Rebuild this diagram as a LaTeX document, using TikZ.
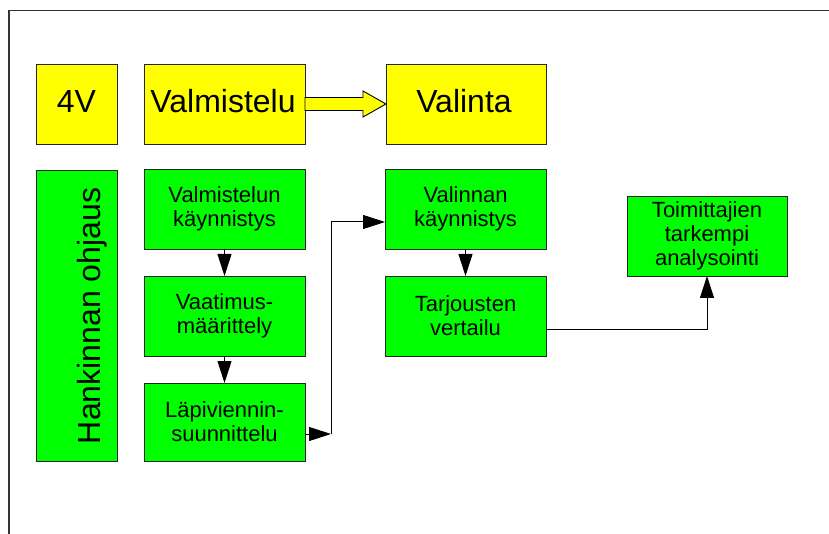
\documentclass[tikz,border=0pt]{standalone}
\usepackage{fontspec}
\setmainfont{Liberation Sans}
\usetikzlibrary{arrows.meta,calc}
\definecolor{boxyellow}{HTML}{FFFF00}
\definecolor{boxgreen}{HTML}{00FF00}
\definecolor{framegray}{HTML}{333333}
\tikzset{
  basebox/.style={draw=black!85, line width=0.9pt, inner sep=0pt, outer sep=0pt, align=center},
  ybox/.style={basebox, fill=boxyellow, font=\fontsize{32}{38}\selectfont},
  gbox/.style={basebox, fill=boxgreen, font=\fontsize{22}{24}\selectfont},
  arr/.style={line width=1pt, -{Triangle[length=22pt,width=14pt]}},
  frameline/.style={draw=framegray, line width=1.6pt},
}
\begin{document}
\begin{tikzpicture}[x=1pt,y=-1pt]
\useasboundingbox (0,0) rectangle (829,534);
\draw[frameline] (9,534) -- (9,10.5) -- (829,10.5);

% top row
\node[ybox, minimum width=81pt, minimum height=80pt] (v4) at (76.5,104) {};
\node[anchor=base, font=\fontsize{32}{38}\selectfont] (v4t) at (76.5,113) {4V};
\node[ybox, minimum width=161pt, minimum height=80pt] (valm) at (224.5,104) {};
\node[anchor=base, font=\fontsize{32}{38}\selectfont] (valmt) at (223,113) {Valmistelu};
\node[ybox, minimum width=160pt, minimum height=80pt] (vali) at (466,104) {};
\node[anchor=base, font=\fontsize{32}{38}\selectfont] (valit) at (464,113) {Valinta};

% block arrow
\draw[fill=boxyellow, draw=black, line width=0.9pt]
  ($(valm.east)+(0,-6.5)$) -- ($(vali.west)+(-23,-6.5)$) -- ($(vali.west)+(-23,-13)$)
  -- (vali.west) -- ($(vali.west)+(-23,13)$) -- ($(vali.west)+(-23,6.5)$)
  -- ($(valm.east)+(0,6.5)$) -- cycle;

% left column
\node[gbox, minimum width=81pt, minimum height=291pt] (hank) at (76.5,315.5) {};
\node[rotate=90, anchor=base, font=\fontsize{32}{38}\selectfont] (hankt) at (100,316) {Hankinnan ohjaus};

% Valmistelu column
\node[gbox, minimum width=161pt, minimum height=80pt] (vk) at (224.5,209) {Valmistelun\\käynnistys};
\node[gbox, minimum width=161pt, minimum height=80pt] (vm) at (224.5,316) {Vaatimus-\\määrittely};
\node[gbox, minimum width=161pt, minimum height=78pt] (lp) at (224.5,422) {Läpiviennin-\\suunnittelu};

% Valinta column
\node[gbox, minimum width=161pt, minimum height=80pt] (vak) at (465.5,209) {Valinnan\\käynnistys};
\node[gbox, minimum width=161pt, minimum height=80pt] (tv) at (465.5,316) {Tarjousten\\vertailu};
\node[gbox, minimum width=160pt, minimum height=80pt] (ta) at (707,236) {Toimittajien\\tarkempi\\analysointi};

% connectors
\draw[arr] (vk) -- (vm);
\draw[arr] (vm) -- (lp);
\coordinate (c1) at (331,434);
\coordinate (c2) at (331,222);
\draw[arr] (lp.east |- c1) -- (c1);
\draw[arr] (c1) -- (c2) -- (c2 -| vak.west);
\draw[arr] (vak) -- (tv);
\coordinate (c3) at (707,329);
\draw[arr] (tv.east |- c3) -- (c3) -- (ta.south);
\end{tikzpicture}
\end{document}
